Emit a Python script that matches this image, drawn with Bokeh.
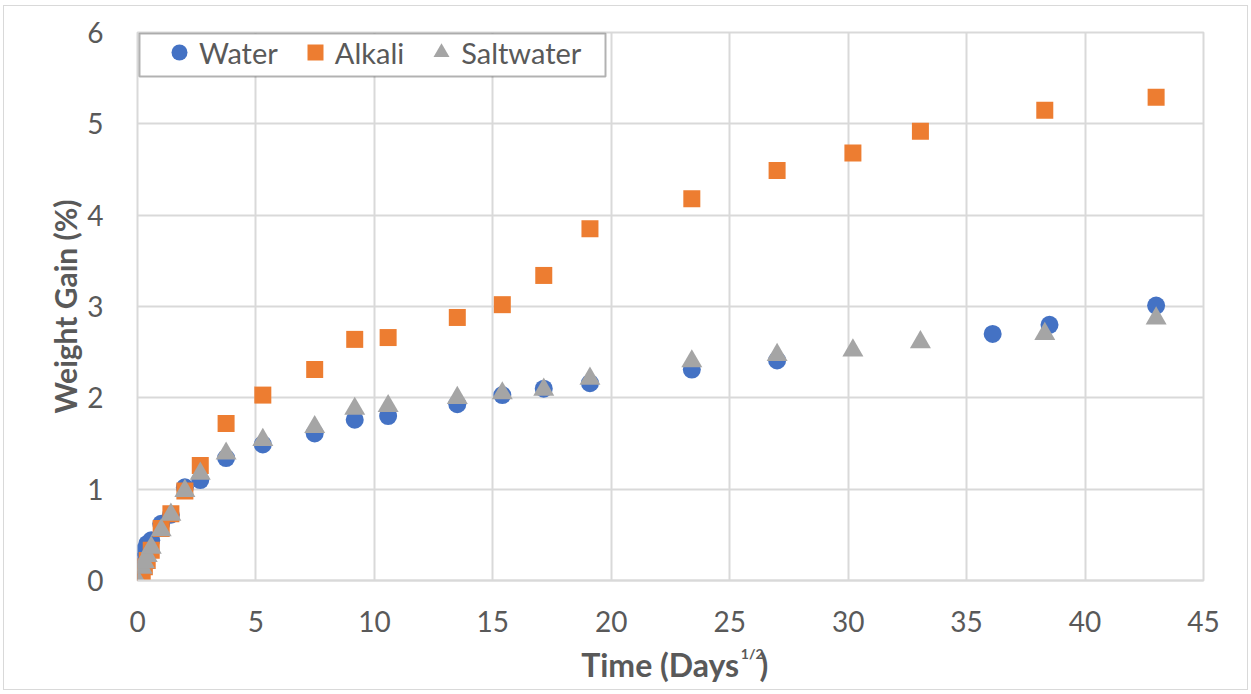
from bokeh.plotting import figure
from bokeh.layouts import column
from bokeh.models import (FixedTicker, Legend, LegendItem, Label, BoxAnnotation, Range1d,
                          InlineStyleSheet)
from bokeh.embed import file_html
from bokeh.resources import INLINE

# Time expressed as square root of days, weight gain in percent
water_t = [0, 0.2, 0.29, 0.41, 0.58, 1.0, 1.41, 2.0, 2.65, 3.74, 5.29, 7.48, 9.17,
           10.58, 13.5, 15.4, 17.15, 19.1, 23.4, 27.0, 36.1, 38.5, 43.0]
water_gain = [0, 0.22, 0.33, 0.40, 0.44, 0.62, 0.72, 1.02, 1.10, 1.34, 1.49, 1.61, 1.76,
              1.80, 1.93, 2.03, 2.10, 2.16, 2.31, 2.41, 2.70, 2.80, 3.01]

alkali_t = [0, 0.2, 0.29, 0.41, 0.58, 1.0, 1.41, 2.0, 2.65, 3.74, 5.29, 7.48, 9.17,
            10.58, 13.5, 15.4, 17.15, 19.1, 23.4, 27.0, 30.2, 33.05, 38.3, 43.0]
alkali_gain = [0.01, 0.08, 0.15, 0.22, 0.33, 0.57, 0.73, 0.98, 1.26, 1.72, 2.03, 2.31, 2.64,
               2.66, 2.88, 3.02, 3.34, 3.85, 4.18, 4.49, 4.68, 4.92, 5.15, 5.29]

salt_t = [0, 0.2, 0.29, 0.41, 0.58, 1.0, 1.41, 2.0, 2.65, 3.74, 5.29, 7.48, 9.17,
          10.58, 13.5, 15.4, 17.15, 19.1, 23.4, 27.0, 30.2, 33.05, 38.3, 43.0]
salt_gain = [0, 0.14, 0.20, 0.27, 0.36, 0.55, 0.72, 0.98, 1.17, 1.39, 1.54, 1.68, 1.88,
             1.91, 2.00, 2.05, 2.09, 2.21, 2.40, 2.47, 2.52, 2.61, 2.70, 2.87]

x_ticks = [0, 5, 10, 15, 20, 25, 30, 35, 40, 45]
y_ticks = [0, 1, 2, 3, 4, 5, 6]

FONT = "Lato"
TEXT = "#595959"
GRID = "#D9D9D9"

W, H = 1251, 694
TITLE_H = 52                      # strip below the chart that holds the x-axis title
PLOT_H = H - TITLE_H
LEFT, RIGHT, TOP, BOTTOM = 137, 48, 32, 62
FRAME_W = W - LEFT - RIGHT
FRAME_H = PLOT_H - TOP - BOTTOM
X0, X1 = 0, 45
Y0, Y1 = 0, 6


def px_to_x(px):
    return X0 + (px - LEFT) * (X1 - X0) / FRAME_W


def px_to_y(py):
    return Y0 + (PLOT_H - BOTTOM - py) * (Y1 - Y0) / FRAME_H


p = figure(width=W, height=PLOT_H, x_range=(X0, X1), y_range=(Y0, Y1),
           output_backend="svg", toolbar_location=None,
           min_border_left=LEFT, min_border_right=RIGHT,
           min_border_top=TOP, min_border_bottom=BOTTOM)
p.title_location = None
p.background_fill_color = "white"
p.border_fill_color = "white"
p.outline_line_color = GRID
p.outline_line_width = 2

r_water = p.scatter(water_t, water_gain, marker="circle", size=18,
                    fill_color="#4472C4", line_color=None)
r_alkali = p.scatter(alkali_t, alkali_gain, marker="square", size=17,
                     fill_color="#ED7D31", line_color=None)
r_salt = p.scatter(salt_t, salt_gain, marker="triangle", size=21,
                   fill_color="#A5A5A5", line_color=None)

# axes
p.xaxis.ticker = FixedTicker(ticks=x_ticks)
p.yaxis.ticker = FixedTicker(ticks=y_ticks)
for ax in (p.xaxis[0], p.yaxis[0]):
    ax.major_tick_line_color = None
    ax.minor_tick_line_color = None
    ax.major_label_text_font = FONT
    ax.major_label_text_font_size = "28px"
    ax.major_label_text_color = TEXT
p.xaxis.axis_line_color = GRID
p.xaxis.axis_line_width = 2
p.yaxis.axis_line_color = None
p.xaxis.major_label_standoff = 24
p.yaxis.major_label_standoff = 28

p.yaxis.axis_label = "Weight Gain (%)"
p.yaxis.axis_label_text_font = FONT
p.yaxis.axis_label_text_font_style = "bold"
p.yaxis.axis_label_text_font_size = "30px"
p.yaxis.axis_label_text_color = TEXT
p.yaxis.axis_label_standoff = 1

p.xgrid.grid_line_color = GRID
p.xgrid.grid_line_width = 2
p.ygrid.grid_line_color = GRID
p.ygrid.grid_line_width = 2

# legend box (white panel with a black border) and the legend entries on it
p.add_layout(BoxAnnotation(left=px_to_x(139), right=px_to_x(605),
                           top=px_to_y(33), bottom=px_to_y(76),
                           fill_color="white", fill_alpha=1,
                           line_color="black", line_width=2))
legend = Legend(items=[LegendItem(label="Water", renderers=[r_water]),
                       LegendItem(label="Alkali", renderers=[r_alkali]),
                       LegendItem(label="Saltwater", renderers=[r_salt])],
                orientation="horizontal", location=(22, PLOT_H - BOTTOM - 73),
                margin=0, padding=0, spacing=17, glyph_width=40, glyph_height=42,
                label_standoff=0,
                label_text_font=FONT, label_text_font_size="29px",
                label_text_color=TEXT,
                border_line_color=None, background_fill_alpha=0)
p.add_layout(legend)

# x-axis title, set in its own strip so the superscript can be placed freely
t = figure(width=W, height=TITLE_H, x_range=Range1d(0, W), y_range=Range1d(TITLE_H, 0),
           output_backend="svg", toolbar_location=None,
           x_axis_type=None, y_axis_type=None,
           min_border_left=0, min_border_right=0, min_border_top=0, min_border_bottom=0)
t.title_location = None
t.outline_line_color = None
t.background_fill_color = "white"
t.border_fill_color = "white"
DX, DY = -29, -9                  # placement correction inside the strip
baseline = 673 - PLOT_H + DY
title_end = 735 + DX
t.add_layout(Label(x=title_end, y=baseline, text="Time (Days", text_align="right",
                   text_baseline="alphabetic", text_font=FONT, text_font_style="bold",
                   text_font_size="32px", text_color=TEXT))
t.add_layout(Label(x=title_end + 2, y=baseline - 11, text="1/2", text_align="left",
                   text_baseline="alphabetic", text_font=FONT, text_font_style="bold",
                   text_font_size="14px", text_color=TEXT))
t.add_layout(Label(x=title_end + 24, y=baseline, text=")", text_align="left",
                   text_baseline="alphabetic", text_font=FONT, text_font_style="bold",
                   text_font_size="32px", text_color=TEXT))

# thin light frame around the whole chart
frame_css = InlineStyleSheet(css="""
:host::after {
  content: "";
  position: absolute;
  left: 3px; top: 5px; right: 3px; bottom: 4px;
  border: 1px solid #D9D9D9;
  pointer-events: none;
  z-index: 100;
}
""")

chart = column(p, t, spacing=0, stylesheets=[frame_css])

open("out.html", "w").write(file_html(chart, INLINE))
